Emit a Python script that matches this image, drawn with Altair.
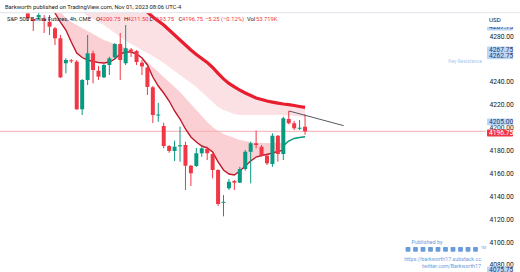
import altair as alt
import pandas as pd

FONT = "Roboto"
RED = "#F23645"
TEAL = "#089981"
DARK = "#131722"
BLUE = "#6A9BDB"

# ---------------- data ----------------
opens = [4299.8, 4294.8, 4296.3, 4294.8, 4292.5, 4286.7, 4278.0, 4256.2, 4258.8, 4257.6,
         4216.0, 4241.6, 4264.9, 4249.7, 4243.9, 4254.7, 4261.4, 4273.0, 4256.2, 4268.2,
         4266.9, 4256.7, 4252.5, 4235.2, 4210.6, 4201.4, 4183.9, 4179.6, 4183.8, 4184.8,
         4166.7, 4166.5, 4177.6, 4181.3, 4176.9, 4163.0, 4134.4, 4147.0, 4153.4, 4151.9,
         4163.8, 4178.9, 4186.3, 4183.3, 4175.5, 4168.2, 4192.9, 4176.9, 4207.5, 4203.8,
         4199.0, 4200.75]
highs = [4300.0, 4296.6, 4300.0, 4298.3, 4298.3, 4287.9, 4280.9, 4260.5, 4259.9, 4259.0,
         4242.4, 4280.9, 4267.2, 4253.8, 4255.5, 4261.9, 4273.9, 4282.6, 4289.6, 4269.5,
         4267.8, 4259.0, 4253.4, 4236.4, 4221.5, 4204.3, 4184.8, 4188.6, 4200.8, 4187.7,
         4167.3, 4182.2, 4183.3, 4183.3, 4177.6, 4163.6, 4141.1, 4155.1, 4154.2, 4165.8,
         4180.4, 4187.7, 4197.3, 4184.8, 4177.6, 4195.0, 4193.5, 4209.5, 4214.5, 4205.8,
         4206.6, 4211.50]
lows = [4293.1, 4284.4, 4294.0, 4282.6, 4280.9, 4272.1, 4243.3, 4247.4, 4256.4, 4215.4,
        4211.0, 4237.2, 4238.7, 4241.6, 4243.3, 4245.9, 4259.6, 4241.6, 4254.7, 4261.7,
        4254.7, 4245.9, 4228.5, 4204.0, 4205.1, 4181.9, 4178.0, 4170.8, 4170.2, 4145.5,
        4149.0, 4165.6, 4174.6, 4171.7, 4155.7, 4131.5, 4122.5, 4145.5, 4145.5, 4151.6,
        4162.4, 4151.3, 4181.9, 4174.6, 4167.3, 4165.8, 4170.2, 4171.7, 4202.9, 4197.9,
        4197.9, 4193.75]
closes = [4295.5, 4293.1, 4298.3, 4293.1, 4288.1, 4278.0, 4243.9, 4259.0, 4257.9, 4216.0,
          4241.6, 4264.9, 4250.3, 4244.5, 4254.7, 4260.5, 4273.0, 4259.0, 4269.3, 4266.9,
          4257.3, 4253.4, 4235.5, 4211.0, 4211.4, 4183.9, 4179.6, 4183.3, 4184.4, 4166.7,
          4160.1, 4177.6, 4181.9, 4177.6, 4163.0, 4133.3, 4135.0, 4152.7, 4151.9, 4163.8,
          4178.9, 4186.3, 4184.8, 4175.5, 4168.8, 4192.9, 4176.9, 4208.1, 4203.8, 4199.4,
          4199.9, 4196.75]

# thick upper average, candles 20..51
thick_start = 20
thick_avg = [4308.8, 4304.5, 4301.0, 4296.6, 4293.1, 4289.6, 4285.2, 4280.9, 4276.5, 4272.1,
             4267.8, 4263.8, 4260.3, 4256.9, 4252.5, 4247.3, 4242.5, 4238.6, 4235.5, 4232.8,
             4230.2, 4228.0, 4225.8, 4224.5, 4223.2, 4222.3, 4221.4, 4220.6, 4220.0, 4219.3,
             4218.4, 4217.6]
# lower edge of the upper ribbon, candles 9..51
upper_low_start = 9
upper_low = [4304.5, 4301.0, 4297.5, 4294.8, 4292.2, 4289.6, 4286.1, 4282.6, 4279.1, 4275.6,
             4273.0, 4270.4, 4267.8, 4265.2, 4262.5, 4259.5, 4256.4, 4252.9, 4249.4, 4245.9,
             4242.4, 4239.0, 4235.5, 4231.1, 4226.7, 4222.4, 4218.0, 4215.4, 4213.7, 4211.9,
             4211.1, 4211.1, 4211.1, 4211.1, 4211.1, 4211.1, 4211.1, 4211.1, 4211.1, 4210.6,
             4210.1, 4209.7, 4209.2]
# upper edge of the lower ribbon, candles 4..51
lower_top_start = 4
lower_top = [4311.4, 4307.1, 4301.0, 4295.7, 4292.2, 4289.6, 4287.0, 4284.4, 4281.7, 4279.1,
             4276.5, 4274.8, 4273.0, 4271.3, 4269.5, 4267.8, 4265.2, 4261.7, 4257.3, 4252.9,
             4248.6, 4244.2, 4239.8, 4235.5, 4231.1, 4225.9, 4220.6, 4215.4, 4210.1, 4204.9,
             4200.5, 4197.0, 4194.4, 4192.7, 4190.9, 4189.2, 4188.3, 4187.4, 4186.5, 4186.5,
             4186.5, 4186.5, 4186.5, 4186.5, 4189.2, 4190.9, 4191.8, 4192.7]
# thin lower average: red part candles 4..47, teal part 47..51
thin_red_start = 4
thin_red = [4305.0, 4300.1, 4292.2, 4285.2, 4274.8, 4265.2, 4261.2, 4259.0, 4257.7, 4256.9,
            4256.4, 4257.3, 4259.9, 4264.3, 4266.0, 4266.0, 4264.3, 4260.8, 4254.7, 4244.2,
            4236.3, 4230.2, 4223.2, 4214.5, 4207.5, 4198.8, 4191.8, 4187.4, 4183.9, 4182.2,
            4178.7, 4170.0, 4163.0, 4159.5, 4158.6, 4162.1, 4166.5, 4170.8, 4174.3, 4175.6,
            4176.5, 4177.8, 4179.1, 4180.4]
thin_teal_start = 47
thin_teal = [4183.9, 4188.3, 4190.5, 4191.3, 4192.0]

trend_x = [48.05, 58.1]
trend_y = [4214.5, 4201.7]

axis_ticks = [4080, 4100, 4120, 4140, 4160, 4180, 4200, 4220, 4240, 4280]
blue_marks = [4287.75, 4267.75, 4262.75, 4205.00, 4075.75]
last_price = closes[-1]

header1 = "Barkworth published on TradingView.com, Nov 01, 2023 08:06 UTC-4"
symbol = "S&P 500 E-mini Futures, 4h, CME"
change_txt = "\u22125.25 (\u22120.12%)"
volume_txt = "53.719K"

# ---------------- frames ----------------
n = len(opens)
candles = pd.DataFrame({"i": range(n), "o": opens, "h": highs, "l": lows, "c": closes})
candles["dir"] = ["up" if c >= o else "down" for o, c in zip(opens, closes)]
mid = (candles["o"] + candles["c"]) / 2
span = (candles["o"] - candles["c"]).abs().clip(lower=0.9) / 2
candles["b1"] = mid - span
candles["b2"] = mid + span

Y_TOP = 4311.4
upper = pd.DataFrame({"i": range(upper_low_start, n), "y2": upper_low})
upper["y"] = [thick_avg[i - thick_start] if i >= thick_start else Y_TOP for i in upper["i"]]
thin_full = thin_red[: thin_teal_start - thin_red_start] + thin_teal
lower = pd.DataFrame({"i": range(lower_top_start, n), "y": lower_top, "y2": thin_full})
thick = pd.DataFrame({"i": range(thick_start, n), "v": thick_avg})
tred = pd.DataFrame({"i": range(thin_red_start, thin_red_start + len(thin_red)), "v": thin_red})
tteal = pd.DataFrame({"i": range(thin_teal_start, n), "v": thin_teal})
trend = pd.DataFrame({"i": trend_x, "v": trend_y})
marks_df = pd.DataFrame({"p": blue_marks})
marks_df["lo"] = marks_df["p"] - 3.0
marks_df["hi"] = marks_df["p"] + 3.0
marks_df["t"] = [f"{p:.2f}" for p in blue_marks]
cur_df = pd.DataFrame({"p": [last_price], "lo": [last_price - 3.0], "hi": [last_price + 3.0],
                       "t": [f"{last_price:.2f}"]})
one = pd.DataFrame({"a": [0]})

xs = alt.Scale(domain=[-4.198, 83.37], nice=False, zero=False)
ys = alt.Scale(domain=[4073.88, 4300.09], nice=False, zero=False)

yaxis = alt.Axis(orient="right", values=axis_ticks, format=".2f", labelFont=FONT,
                 labelFontSize=6.7, labelColor=DARK, ticks=False, tickSize=0, domain=False,
                 grid=False, labelPadding=3, title=None, labelOverlap=False)


def X(f="i"):
    return alt.X(f, type="quantitative", scale=xs, axis=None)


def Y(f):
    return alt.Y(f, type="quantitative", scale=ys, axis=yaxis)


dir_color = alt.Color("dir:N", scale=alt.Scale(domain=["up", "down"], range=[TEAL, RED]),
                      legend=None)


def txt(text, x, y, color, size, align="left", weight="normal"):
    return alt.Chart(one).mark_text(text=text, align=align, baseline="middle", font=FONT,
                                    fontSize=size, color=color, fontWeight=weight).encode(
        x=alt.value(x), y=alt.value(y))


layers = []
layers.append(alt.Chart(upper).mark_area(color="#FCE1E4", clip=True).encode(
    x=X(), y=Y("y"), y2="y2"))
layers.append(alt.Chart(lower).mark_area(color="#FAD0D5", clip=True).encode(
    x=X(), y=Y("y"), y2="y2"))
layers.append(alt.Chart(cur_df).mark_rule(color="#F6AEB4", strokeWidth=1).encode(
    x=alt.value(0), x2=alt.value(486), y=Y("p")))
layers.append(alt.Chart(thick).mark_line(color="#E81E2E", strokeWidth=3.2, clip=True).encode(
    x=X(), y=Y("v")))
layers.append(alt.Chart(tred).mark_line(color="#C0172A", strokeWidth=1.4, clip=True).encode(
    x=X(), y=Y("v")))
layers.append(alt.Chart(tteal).mark_line(color=TEAL, strokeWidth=1.4, clip=True).encode(
    x=X(), y=Y("v")))
layers.append(alt.Chart(candles).mark_rule(strokeWidth=1, clip=True).encode(
    x=X(), y=Y("l"), y2="h", color=dir_color))
layers.append(alt.Chart(candles).mark_bar(size=4, clip=True).encode(
    x=X(), y=Y("b1"), y2="b2", color=dir_color))
layers.append(alt.Chart(trend).mark_line(color="#434651", strokeWidth=0.9, clip=True).encode(
    x=X(), y=Y("v")))

# header band
layers.append(alt.Chart(one).mark_rule(color="#E0E3EB", strokeWidth=1).encode(
    x=alt.value(0), x2=alt.value(520), y=alt.value(-0.3)))
layers.append(txt(header1, 5, -6.3, DARK, 5.8))
layers.append(txt(symbol, 7, 6.3, DARK, 5.8))
pieces = [("O", 96, DARK), (f"{opens[-1]:.2f}", 99.5, RED),
          ("H", 124, DARK), (f"{highs[-1]:.2f}", 127.5, RED),
          ("L", 149.5, DARK), (f"{lows[-1]:.2f}", 153, RED),
          ("C", 178.5, DARK), (f"{closes[-1]:.2f}", 182, RED),
          (change_txt, 205, RED), ("Vol", 247, DARK), (volume_txt, 256, RED)]
for t, x, col in pieces:
    layers.append(txt(t, x, 6.3, col, 5.8))

# price scale annotations
layers.append(alt.Chart(marks_df).mark_rect(color="#BCD6F7", cornerRadius=1).encode(
    x=alt.value(487), x2=alt.value(513), y=Y("lo"), y2="hi"))
layers.append(alt.Chart(marks_df).mark_text(align="left", baseline="middle", font=FONT,
                                            fontSize=6.7, color="#1F3F6E").encode(
    x=alt.value(489), y=Y("p"), text="t:N"))
layers.append(alt.Chart(cur_df).mark_rect(color=RED, cornerRadius=1, yOffset=1.7, y2Offset=1.7).encode(
    x=alt.value(487), x2=alt.value(513), y=Y("lo"), y2="hi"))
layers.append(alt.Chart(cur_df).mark_text(align="left", baseline="middle", font=FONT,
                                          fontSize=6.7, color="white", dy=1.7).encode(
    x=alt.value(489), y=Y("p"), text="t:N"))
layers.append(alt.Chart(one).mark_rect(color="white").encode(
    x=alt.value(486.5), x2=alt.value(520), y=alt.value(0.3), y2=alt.value(14)))
layers.append(txt("USD", 489, 7, DARK, 6.2))
layers.append(txt("Key Resistance", 482, 48, "#A9C8EE", 5, align="right"))

# watermark
layers.append(txt("Published by", 427, 228.7, BLUE, 5.5, align="center"))
for k in range(10):
    cx = 408 + 7.5 * k
    layers.append(alt.Chart(one).mark_rect(color=BLUE, cornerRadius=0.8).encode(
        x=alt.value(cx - 2.4), x2=alt.value(cx + 2.4), y=alt.value(233.9), y2=alt.value(238.7)))
layers.append(txt("TM", 481, 234.5, BLUE, 3.5))
layers.append(txt("https://barkworth17.substack.cc", 481, 246, BLUE, 5.3, align="right"))
layers.append(txt("twitter.com/Barkworth17", 481, 252.5, BLUE, 5.3, align="right"))

chart = alt.layer(*layers).properties(
    width=486, height=259,
    padding={"left": 0, "top": 13, "right": 34, "bottom": 0},
    autosize=alt.AutoSizeParams(type="none"),
    background="white",
).configure_view(stroke=None)

chart.save("out.html", embed_options={"renderer": "svg", "actions": False})
